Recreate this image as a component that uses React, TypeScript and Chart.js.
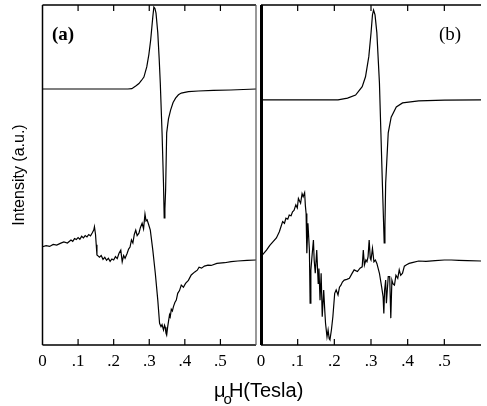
import React, { useEffect, useRef } from "react";
import { Chart, registerables } from "chart.js";

Chart.register(...registerables);

// x-axis ticks (Tesla) and labels
const xTicks = [0, 0.1, 0.2, 0.3, 0.4, 0.5, 0.6];
const xTickLabels = ["0", ".1", ".2", ".3", ".4", ".5", ""];

// Panel (a): upper (smooth) resonance curve, [field, intensity]
const aUpper: [number, number][] = [
  [0, 75.3], [0.1, 75.3], [0.2, 75.3], [0.24, 75.3], [0.251, 75.4], [0.262, 76.2],
  [0.271, 76.9], [0.278, 77.8], [0.285, 78.8], [0.293, 81.8], [0.299, 85.5],
  [0.304, 89.7], [0.31, 96.5], [0.313, 99.4], [0.316, 99.0], [0.319, 97.6],
  [0.324, 91.8], [0.328, 84.0], [0.331, 77.1], [0.336, 62.4], [0.34, 47.6],
  [0.342, 37.4], [0.344, 40.0], [0.346, 45.6], [0.349, 62.4], [0.354, 66.5],
  [0.36, 69.1], [0.367, 71.3], [0.374, 72.6], [0.382, 73.6], [0.39, 74.1],
  [0.41, 74.5], [0.438, 74.7], [0.48, 74.9], [0.529, 75.0], [0.6, 75.3],
];

// Panel (a): lower (noisy) curve
const aLower: [number, number][] = [
  [0, 28.9], [0.01, 29.2], [0.02, 29.0], [0.03, 29.6], [0.04, 29.4], [0.05, 29.9],
  [0.06, 30.3], [0.07, 30.0], [0.08, 30.9], [0.085, 30.5], [0.09, 31.3], [0.095, 31.0],
  [0.1, 31.6], [0.105, 31.1], [0.11, 32.0], [0.115, 31.5], [0.12, 32.2], [0.125, 31.8],
  [0.13, 32.5], [0.135, 32.1], [0.14, 33.0], [0.144, 33.8], [0.146, 34.8], [0.149, 32.5],
  [0.151, 29.5], [0.153, 26.5], [0.156, 26.2], [0.16, 25.8], [0.165, 26.3], [0.17, 25.2],
  [0.175, 25.8], [0.18, 24.9], [0.185, 25.5], [0.19, 24.6], [0.195, 25.3], [0.2, 25.0],
  [0.205, 26.0], [0.21, 25.4], [0.215, 27.0], [0.22, 27.9], [0.224, 24.5], [0.228, 26.3],
  [0.232, 25.5], [0.238, 27.0], [0.242, 28.2], [0.246, 28.8], [0.25, 30.9], [0.254, 30.0],
  [0.258, 32.5], [0.262, 33.8], [0.266, 32.2], [0.271, 32.9], [0.275, 34.5], [0.28, 35.8],
  [0.284, 34.2], [0.288, 38.5], [0.291, 36.5], [0.294, 36.8], [0.298, 35.5], [0.303, 33.8],
  [0.31, 27.9], [0.317, 21.1], [0.324, 13.2], [0.329, 6.4], [0.333, 5.4], [0.336, 6.0],
  [0.34, 4.4], [0.343, 5.8], [0.345, 5.2], [0.347, 3.5], [0.349, 2.9], [0.352, 5.5],
  [0.354, 6.9], [0.357, 8.9], [0.359, 8.3], [0.362, 10.5], [0.365, 10.0], [0.368, 11.3],
  [0.372, 12.5], [0.376, 13.2], [0.38, 15.2], [0.385, 16.0], [0.39, 17.6], [0.396, 17.0],
  [0.402, 18.1], [0.41, 19.0], [0.418, 20.6], [0.428, 21.5], [0.435, 22.0], [0.44, 22.9],
  [0.447, 22.6], [0.455, 23.2], [0.465, 23.5], [0.474, 23.4], [0.49, 24.0], [0.512, 24.2],
  [0.53, 24.5], [0.549, 24.7], [0.575, 24.9], [0.6, 25.0],
];

// Panel (b): upper (smooth) resonance curve
const bUpper: [number, number][] = [
  [0, 72.1], [0.1, 72.1], [0.21, 72.1], [0.236, 72.6], [0.258, 73.5], [0.276, 76.0],
  [0.285, 78.9], [0.294, 84.8], [0.3, 91.7], [0.304, 97.1], [0.307, 98.5], [0.311, 97.1],
  [0.316, 91.8], [0.323, 77.1], [0.327, 62.4], [0.331, 47.6], [0.336, 30.0], [0.338, 35.0],
  [0.34, 47.6], [0.347, 62.4], [0.355, 67.0], [0.369, 70.0], [0.386, 71.2], [0.43, 71.8],
  [0.5, 72.0], [0.6, 72.1],
];

// Panel (b): lower (noisy) curve
const bLower: [number, number][] = [
  [0, 26.0], [0.008, 27.0], [0.015, 27.9], [0.024, 29.3], [0.033, 30.4], [0.042, 31.5],
  [0.05, 33.3], [0.059, 36.3], [0.064, 35.8], [0.068, 37.3], [0.073, 37.0], [0.077, 38.2],
  [0.082, 38.0], [0.086, 39.2], [0.09, 39.6], [0.095, 41.2], [0.099, 40.3], [0.102, 43.1],
  [0.108, 41.7], [0.112, 44.5], [0.115, 43.6], [0.119, 44.8], [0.121, 41.0], [0.123, 38.7],
  [0.125, 27.0], [0.128, 35.8], [0.132, 27.9], [0.134, 12.3], [0.136, 22.0], [0.139, 26.0],
  [0.143, 30.9], [0.145, 25.0], [0.148, 21.1], [0.152, 27.9], [0.156, 18.1], [0.158, 22.5],
  [0.161, 13.2], [0.164, 21.1], [0.167, 8.3], [0.171, 16.2], [0.174, 10.0], [0.176, 6.4],
  [0.18, 2.4], [0.183, 4.4], [0.186, 1.8], [0.188, 1.5], [0.192, 4.4], [0.196, 8.3],
  [0.201, 15.2], [0.205, 16.2], [0.21, 14.7], [0.214, 17.0], [0.218, 17.6], [0.222, 18.5],
  [0.227, 19.1], [0.234, 19.3], [0.241, 19.6], [0.248, 21.0], [0.254, 22.1], [0.263, 21.6],
  [0.27, 22.6], [0.276, 23.0], [0.279, 27.9], [0.282, 23.5], [0.286, 25.0], [0.289, 24.5],
  [0.292, 26.0], [0.295, 30.9], [0.298, 25.5], [0.3, 25.0], [0.304, 28.4], [0.308, 24.5],
  [0.312, 25.0], [0.316, 24.0], [0.323, 21.1], [0.329, 17.1], [0.333, 14.2], [0.335, 9.3],
  [0.337, 16.0], [0.34, 19.1], [0.342, 12.3], [0.347, 20.1], [0.351, 20.1], [0.354, 7.9],
  [0.357, 19.1], [0.36, 18.0], [0.364, 17.6], [0.368, 20.5], [0.373, 19.6], [0.377, 22.1],
  [0.381, 20.5], [0.386, 21.1], [0.391, 23.2], [0.397, 23.6], [0.404, 24.0], [0.415, 24.3],
  [0.43, 24.7], [0.45, 24.6], [0.475, 24.8], [0.5, 25.0], [0.519, 25.0], [0.54, 24.9],
  [0.563, 24.8], [0.6, 24.7],
];

type Panel = "a" | "b";

function framePlugin(panel: Panel) {
  return {
    id: "frame-" + panel,
    afterDatasetsDraw(chart: any) {
      const { ctx, chartArea: ca, scales } = chart;
      const xs = scales.x;
      ctx.save();
      ctx.strokeStyle = "#000";
      ctx.lineCap = "butt";
      // top & bottom borders
      ctx.lineWidth = 1.5;
      ctx.beginPath();
      ctx.moveTo(ca.left, ca.top);
      ctx.lineTo(ca.right, ca.top);
      ctx.moveTo(ca.left, ca.bottom);
      ctx.lineTo(ca.right, ca.bottom);
      ctx.stroke();
      // left border
      ctx.lineWidth = panel === "a" ? 1.5 : 3;
      ctx.beginPath();
      ctx.moveTo(ca.left + (panel === "a" ? 0 : 0.5), ca.top);
      ctx.lineTo(ca.left + (panel === "a" ? 0 : 0.5), ca.bottom);
      ctx.stroke();
      if (panel === "a") {
        ctx.lineWidth = 1.2;
        ctx.strokeStyle = "#555";
        ctx.beginPath();
        ctx.moveTo(ca.right, ca.top);
        ctx.lineTo(ca.right, ca.bottom);
        ctx.stroke();
        ctx.strokeStyle = "#000";
      }
      // inward tick marks
      ctx.lineWidth = 1.2;
      ctx.beginPath();
      xTicks.forEach((v) => {
        if (v <= 0 || v >= 0.6) return;
        const px = xs.getPixelForValue(v);
        ctx.moveTo(px, ca.bottom);
        ctx.lineTo(px, ca.bottom - 6);
        ctx.moveTo(px, ca.top);
        ctx.lineTo(px, ca.top + 6);
      });
      ctx.stroke();
      // panel label
      ctx.fillStyle = "#000";
      ctx.textBaseline = "middle";
      ctx.textAlign = "left";
      if (panel === "a") {
        ctx.font = "bold 19px 'Liberation Serif'";
        ctx.fillText("(a)", ca.left + 9.5, 35);
      } else {
        ctx.font = "19px 'Liberation Serif'";
        ctx.fillText("(b)", ca.right - 42, 35);
      }
      ctx.restore();
    },
  };
}

function makeConfig(panel: Panel): any {
  const series = panel === "a" ? [aUpper, aLower] : [bUpper, bLower];
  return {
    type: "line",
    data: {
      datasets: series.map((s) => ({
        data: s.map(([x, y]) => ({ x, y })),
        borderColor: "#000",
        borderWidth: 1.2,
        pointRadius: 0,
        tension: 0,
        fill: false,
      })),
    },
    options: {
      animation: false,
      responsive: false,
      maintainAspectRatio: false,
      events: [],
      layout: {
        padding:
          panel === "a"
            ? { left: 0, right: 3.5, top: 5, bottom: 0 }
            : { left: 21, right: 0, top: 5, bottom: 0 },
      },
      plugins: {
        legend: { display: false },
        tooltip: { enabled: false },
        title: { display: false },
      },
      scales: {
        x: {
          type: "linear",
          min: 0,
          max: 0.6,
          afterBuildTicks: (axis: any) => {
            axis.ticks = xTicks.map((v) => ({ value: v }));
          },
          afterFit: (axis: any) => {
            axis.height = 61;
          },
          ticks: {
            autoSkip: false,
            maxRotation: 0,
            padding: 6,
            color: "#000",
            font: { family: "'Liberation Serif'", size: 17 },
            callback: (_v: any, i: number) => xTickLabels[i],
          },
          grid: { display: false, drawTicks: false },
          border: { display: false },
        },
        y: {
          type: "linear",
          min: 0,
          max: 100,
          display: panel === "a",
          afterFit: (axis: any) => {
            axis.width = panel === "a" ? 42.5 : 0;
          },
          ticks: { display: false },
          grid: { display: false, drawTicks: false },
          border: { display: false },
          title: {
            display: true,
            text: "Intensity (a.u.)",
            color: "#000",
            font: { family: "'Liberation Sans'", size: 16 },
            padding: { top: 10, bottom: 0 },
          },
        },
      },
    },
    plugins: [framePlugin(panel)],
  };
}

function PanelChart({ panel, left, width }: { panel: Panel; left: number; width: number }) {
  const ref = useRef<HTMLCanvasElement | null>(null);
  useEffect(() => {
    if (!ref.current) return;
    const chart = new Chart(ref.current, makeConfig(panel));
    return () => chart.destroy();
  }, [panel]);
  return (
    <canvas
      ref={ref}
      width={width}
      height={406}
      style={{ position: "absolute", left, top: 0, width, height: 406 }}
    />
  );
}

export default function App() {
  return (
    <div
      style={{
        position: "absolute",
        left: 0,
        top: 0,
        width: 487,
        height: 406,
        background: "#fff",
        overflow: "hidden",
      }}
    >
      <PanelChart panel="a" left={0} width={262} />
      <PanelChart panel="b" left={240} width={247} />
      <div
        style={{
          position: "absolute",
          left: 214,
          top: 380,
          fontFamily: "'Liberation Sans', Arial, sans-serif",
          fontSize: 20,
          lineHeight: "20px",
          color: "#000",
          whiteSpace: "nowrap",
        }}
      >
        μ
        <span style={{ fontSize: 15, position: "relative", top: 7, marginLeft: -2, marginRight: -3 }}>o</span>
        H(Tesla)
      </div>
    </div>
  );
}
